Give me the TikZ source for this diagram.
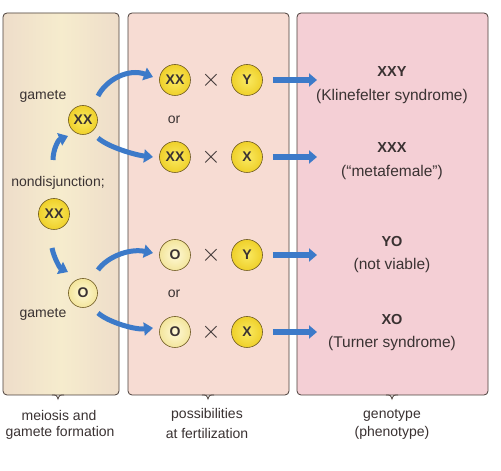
\documentclass[tikz,border=0pt]{standalone}
\usepackage{fontspec}
\setmainfont{Liberation Sans}
\usetikzlibrary{arrows.meta,calc}
\definecolor{txt}{HTML}{3A3232}
\definecolor{edge}{HTML}{4A3F3A}
\definecolor{lpanA}{HTML}{EEDDCA}
\definecolor{lpanB}{HTML}{F6ECCD}
\definecolor{mpan}{HTML}{F7DCD3}
\definecolor{rpan}{HTML}{F4CFD5}
\definecolor{yelIn}{HTML}{FAEA62}
\definecolor{yelOut}{HTML}{EFD02A}
\definecolor{paleIn}{HTML}{FFF9D6}
\definecolor{paleOut}{HTML}{F3E59C}
\definecolor{cedge}{HTML}{6E5A22}
\definecolor{arrblue}{HTML}{3C7AC9}
\begin{document}
\begin{tikzpicture}[x=1pt,y=1pt,
  every node/.style={text=txt},
  chrom/.style={circle,inner sep=0pt,minimum size=31pt,draw=cedge,line width=0.6pt,
    inner color=yelIn,outer color=yelOut,font=\fontsize{14}{14}\selectfont\bfseries},
  emptyg/.style={chrom,inner color=paleIn,outer color=paleOut},
  lbl/.style={font=\fontsize{14}{16}\selectfont},
  rlbl/.style={font=\fontsize{15.5}{18}\selectfont},
  geno/.style={font=\fontsize{14.5}{16}\selectfont\bfseries},
  cross/.style={inner sep=0pt,font=\fontsize{24}{24}\selectfont},
  panel/.style={draw=edge,line width=0.8pt,rounded corners=4pt},
  curvearrow/.style={draw=arrblue,line width=5pt,-{Triangle[length=9pt,width=13pt]}},
  straightarrow/.style={draw=arrblue,line width=6pt,-{Triangle[length=8pt,width=13pt]}}
]
\useasboundingbox (0,0) rectangle (501,471);
\fill[white!97!black!3] (0,0) rectangle (501,471);
% panels
\path[panel,left color=lpanA,right color=lpanA,middle color=lpanB] (3,76) rectangle (119,458);
\path[panel,fill=mpan] (128,76) rectangle (289,458);
\path[panel,fill=rpan] (297,76) rectangle (488,458);
\foreach \cx in {58,208,392}{
  \draw[edge,line width=0.8pt] (\cx-6,76) .. controls (\cx-1.5,76) .. (\cx,72)
     .. controls (\cx+1.5,76) .. (\cx+6,76);
}
% left column
\node[lbl] (gam1) at (43,375) {gamete};
\node[chrom,minimum size=29pt] (g1) at (83,351) {XX};
\node[lbl] (nd) at (58,288) {nondisjunction;};
\node[chrom] (par) at (54,257) {XX};
\node[emptyg,minimum size=29pt] (g2) at (83,178) {O};
\node[lbl] (gam2) at (43,157) {gamete};
% middle column
\node[chrom] (r1a) at (175,391) {XX};
\node[cross] (x1) at (211,391) {$\times$};
\node[chrom] (r1b) at (247,391) {Y};
\node[lbl] (or1) at (174,351) {or};
\node[chrom] (r2a) at (175,314) {XX};
\node[cross] (x2) at (211,314) {$\times$};
\node[chrom] (r2b) at (247,314) {X};
\node[emptyg] (r3a) at (175,216) {O};
\node[cross] (x3) at (211,216) {$\times$};
\node[chrom] (r3b) at (247,216) {Y};
\node[lbl] (or2) at (174,177) {or};
\node[emptyg] (r4a) at (175,139) {O};
\node[cross] (x4) at (211,139) {$\times$};
\node[chrom] (r4b) at (247,139) {X};
% right column
\node[geno] (t1) at (392,399) {XXY};
\node[rlbl] (p1) at (392,375) {(Klinefelter syndrome)};
\node[geno] (t2) at (392,323) {XXX};
\node[rlbl] (p2) at (392,299) {(“metafemale”)};
\node[geno] (t3) at (392,229) {YO};
\node[rlbl] (p3) at (392,206) {(not viable)};
\node[geno] (t4) at (392,151) {XO};
\node[rlbl] (p4) at (392,128) {(Turner syndrome)};
% bottom labels
\node[lbl] (b1a) at (59,56) {meiosis and};
\node[lbl] (b1b) at (60,38) {gamete formation};
\node[lbl] (b2a) at (207,56) {possibilities};
\node[lbl] (b2b) at (207,38) {at fertilization};
\node[lbl] (b3a) at (392,56) {genotype};
\node[lbl] (b3b) at (392,38) {(phenotype)};
% curved arrows
\draw[curvearrow] ($(par)+(-1,54)$) .. controls ($(par)+(-1,64)$) and ($(par)+(4,74)$) .. ($(g1)+(-15,-16)$);
\draw[curvearrow] ($(par)+(-2,-34)$) .. controls ($(par)+(0,-44)$) and ($(par)+(6,-54)$) .. ($(g2)+(-15,21)$);
\draw[curvearrow] ($(g1)+(15,24)$) .. controls ($(g1)+(23,40)$) and ($(g1)+(45,52)$) .. ($(r1a)+(-22,3)$);
\draw[curvearrow] ($(g1)+(15,-18)$) .. controls ($(g1)+(25,-27)$) and ($(g1)+(52,-35)$) .. ($(r2a)+(-22,0)$);
\draw[curvearrow] ($(g2)+(15,23)$) .. controls ($(g2)+(23,35)$) and ($(g2)+(45,45)$) .. ($(r3a)+(-22,2)$);
\draw[curvearrow] ($(g2)+(15,-20)$) .. controls ($(g2)+(25,-29)$) and ($(g2)+(52,-37)$) .. ($(r4a)+(-22,4)$);
% straight arrows
\coordinate (e1) at (317,391);
\coordinate (e2) at (317,314);
\coordinate (e3) at (317,216);
\coordinate (e4) at (317,139);
\draw[straightarrow] ([xshift=10pt]r1b.east) -- (e1);
\draw[straightarrow] ([xshift=10pt]r2b.east) -- (e2);
\draw[straightarrow] ([xshift=10pt]r3b.east) -- (e3);
\draw[straightarrow] ([xshift=10pt]r4b.east) -- (e4);
\end{tikzpicture}
\end{document}
